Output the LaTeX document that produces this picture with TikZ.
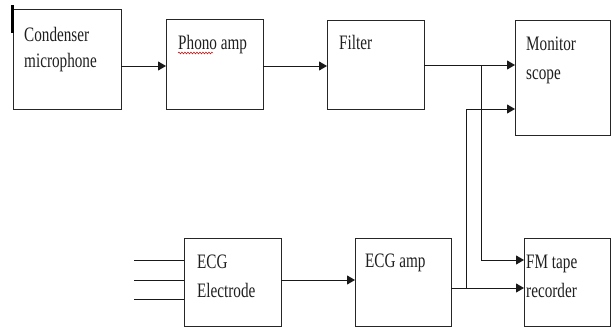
\documentclass[tikz,border=0pt]{standalone}
\usepackage{fontspec}
\setmainfont{Liberation Serif}
\usetikzlibrary{arrows.meta,calc,decorations.pathmorphing}
\newcommand\tall[1]{\scalebox{1}[1.35]{#1}}
\begin{document}
\begin{tikzpicture}[x=1pt,y=-1pt,
  blk/.style={draw=black!85,line width=0.9pt,inner sep=0pt,outer sep=0pt},
  lbl/.style={anchor=base west,inner sep=0pt,font=\fontsize{15.2}{17}\selectfont,text=black!88},
  arr/.style={line width=1pt,draw=black!90,-{Triangle[length=8pt,width=9pt]}},
  lead/.style={line width=1pt,draw=black!90}]
\useasboundingbox (0,0) rectangle (611,327);
% boxes
\node[blk,minimum width=108pt,minimum height=100pt] (cm) at (67,59) {};
\node[blk,minimum width=97pt,minimum height=90pt] (ph) at (214.5,64) {};
\node[blk,minimum width=97pt,minimum height=89pt] (fi) at (375.5,64.5) {};
\node[blk,minimum width=95pt,minimum height=115pt] (mo) at (562.5,77.5) {};
\node[blk,minimum width=97pt,minimum height=88pt] (el) at (232.5,282) {};
\node[blk,minimum width=96pt,minimum height=88pt] (ea) at (403,282) {};
\node[blk,minimum width=86pt,minimum height=88pt] (fm) at (567,282) {};
% labels
\node[lbl] (t1) at (24,41) {\tall{Condenser}};
\node[lbl] (t2) at (24,67) {\tall{microphone}};
\node[lbl] (t3) at (178,49) {\tall{Phono amp}};
\node[lbl] (t4) at (339,49) {\tall{Filter}};
\node[lbl] (t5) at (526,50) {\tall{Monitor}};
\node[lbl] (t6) at (526,79) {\tall{scope}};
\node[lbl] (t7) at (197,268) {\tall{ECG}};
\node[lbl] (t8) at (197,297) {\tall{Electrode}};
\node[lbl] (t9) at (365,267) {\tall{ECG amp}};
\node[lbl] (t10) at (526,268) {\tall{FM tape}};
\node[lbl] (t11) at (526,297) {\tall{recorder}};
% spell-check squiggle under "Phono"
\draw[red!75!black,line width=0.5pt,decorate,decoration={snake,amplitude=0.9pt,segment length=3pt}]
  ($(t3.base west)+(0,4)$) -- ($(t3.base west)+(35,4)$);
% cursor bar
\coordinate (c1) at (12.5,5);
\coordinate (c2) at (12.5,33);
\draw[line width=2.5pt] (c1) -- (c2);
% row coordinates
\coordinate (ya) at (0,66);
\coordinate (yb) at (0,65);
\coordinate (yc) at (0,109);
\coordinate (yd) at (0,260);
\coordinate (ye) at (0,280);
\coordinate (yf) at (0,288);
\coordinate (j1) at (481,65);
\coordinate (j2) at (466,288);
% connectors
\draw[arr] (cm.east |- ya) -- (ph.west |- ya);
\draw[arr] (ph.east |- ya) -- (fi.west |- ya);
\draw[arr] (fi.east |- yb) -- (mo.west |- yb);
\draw[arr] (j1) -- (j1 |- yd) -- (fm.west |- yd);
\draw[arr] (ea.east |- yf) -- (fm.west |- yf);
\draw[arr] (j2) -- (j2 |- yc) -- (mo.west |- yc);
\draw[arr] (el.east |- ye) -- (ea.west |- ye);
% electrode leads
\coordinate (l1) at (134,260);
\coordinate (l2) at (134,280);
\coordinate (l3) at (134,299);
\draw[lead] (l1) -- (el.west |- l1);
\draw[lead] (l2) -- (el.west |- l2);
\draw[lead] (l3) -- (el.west |- l3);
\end{tikzpicture}
\end{document}
